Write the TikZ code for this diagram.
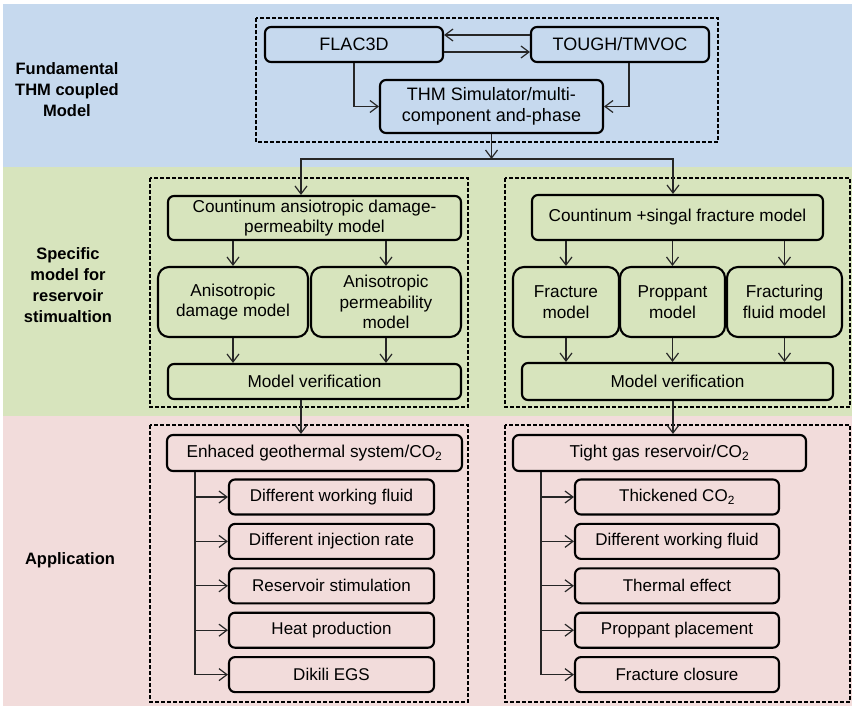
\documentclass[tikz,border=0pt]{standalone}
\usepackage{fontspec}
\setmainfont{Liberation Sans}
\usetikzlibrary{arrows.meta}
\definecolor{bandblue}{RGB}{198,217,238}
\definecolor{bandgreen}{RGB}{215,228,189}
\definecolor{bandpink}{RGB}{242,220,219}
\tikzset{
	box/.style={draw, line width=2.1pt, rounded corners=6pt, align=center, inner sep=0pt, font=\fontsize{17.2}{20.5}\selectfont},
	topbox/.style={box, font=\fontsize{18}{21.5}\selectfont},
	midbox/.style={box, rounded corners=11pt},
	appbox/.style={box, font=\fontsize{17}{20}\selectfont},
	grp/.style={draw, line width=1.1pt, dash pattern=on 4pt off 2pt},
	arr/.style={line width=1.2pt, draw=black!85, -{Straight Barb[length=8pt,width=12pt]}},
	side/.style={align=center, font=\bfseries\fontsize{16.5}{21}\selectfont},
}

\begin{document}
\begin{tikzpicture}[x=1pt, y=-1pt]
			%%%%% START %%%%%
			\useasboundingbox (0,0) rectangle (852,706);
			
			\fill[bandblue] (3,4) rectangle (852,167);
			\fill[bandgreen] (3,167) rectangle (852,416);
			\fill[bandpink] (3,416) rectangle (852,706);
			
			\node[side] (lblfund) at (67,90) {Fundamental\\THM coupled\\Model};
			\node[side] (lblspec) at (68,285) {Specific\\model for\\reservoir\\stimualtion};
			\node[side] (lblapp) at (70,560) {Application};
			
			\draw[grp] (256,18) rectangle (718,142);
			\node[topbox, minimum width=178pt, minimum height=35pt] (flac) at (354,44.5) {FLAC3D};
			\node[topbox, minimum width=178pt, minimum height=35pt] (tough) at (620,44.5) {TOUGH/TMVOC};
			\node[topbox, minimum width=223pt, minimum height=53pt] (thm) at (491.5,106.5) {THM Simulator/multi-\\component and-phase};
			
			\draw[arr] ([yshift=9.5pt]tough.west) -- ([yshift=9.5pt]flac.east);
			\draw[arr] ([yshift=-7.5pt]flac.east) -- ([yshift=-7.5pt]tough.west);
			\draw[arr] (flac.south) |- (thm.west);
			\draw[arr] ([xshift=9pt]tough.south) |- (thm.east);
			
			\coordinate (split) at (491.5,159);
			\coordinate (colL) at (301,0);
			\coordinate (colR) at (673,0);
			
			\draw[grp] (150,178) rectangle (468,407);
			\node[box, minimum width=293pt, minimum height=44pt] (cadp) at (314.5,218) {Countinum ansiotropic damage-\\permeabilty model};
			\node[midbox, minimum width=150pt, minimum height=70pt] (adm) at (233,302) {Anisotropic\\damage model};
			\node[midbox, minimum width=150pt, minimum height=70pt] (apm) at (386,302) {Anisotropic\\permeability\\model};
			\node[box, minimum width=293pt, minimum height=35pt] (mvL) at (314.5,381.5) {Model verification};
			
			\draw[grp] (505,178) rectangle (850,407);
			\node[box, minimum width=291pt, minimum height=45pt] (csf) at (677.5,217.5) {Countinum +singal fracture model};
			\node[midbox, minimum width=106pt, minimum height=70pt] (frac) at (566,302) {Fracture\\model};
			\node[midbox, minimum width=105pt, minimum height=70pt] (prop) at (672.5,302) {Proppant\\model};
			\node[midbox, minimum width=115pt, minimum height=70pt] (fluid) at (784.5,302) {Fracturing\\fluid model};
			\node[box, minimum width=311pt, minimum height=37pt] (mvR) at (677.5,381.5) {Model verification};
			
			\draw[arr] (thm.south) -- (split);
			\draw[arr] (split) -| (cadp.north -| colL);
			\draw[arr] (split) -| (csf.north -| colR);
			
			\draw[arr] (cadp.south -| adm.north) -- (adm.north);
			\draw[arr] (cadp.south -| apm.north) -- (apm.north);
			\draw[arr] (adm.south) -- (mvL.north -| adm.south);
			\draw[arr] (apm.south) -- (mvL.north -| apm.south);
			
			\draw[arr] (csf.south -| frac.north) -- (frac.north);
			\draw[arr] (csf.south -| prop.north) -- (prop.north);
			\draw[arr] (csf.south -| fluid.north) -- (fluid.north);
			\draw[arr] (frac.south) -- (mvR.north -| frac.south);
			\draw[arr] (prop.south) -- (mvR.north -| prop.south);
			\draw[arr] (fluid.south) -- (mvR.north -| fluid.south);
			
			\draw[grp] (150,425) rectangle (468,702);
			\node[box, minimum width=295pt, minimum height=36pt] (egs) at (314.5,453) {Enhaced geothermal system/CO\textsubscript{2}};
			\node[appbox, minimum width=205pt, minimum height=35pt] (wfL) at (331.5,497) {Different working fluid};
			\node[appbox, minimum width=205pt, minimum height=35pt] (inj) at (331.5,541.4) {Different injection rate};
			\node[appbox, minimum width=205pt, minimum height=35pt] (stim) at (331.5,585.8) {Reservoir stimulation};
			\node[appbox, minimum width=205pt, minimum height=35pt] (heat) at (331.5,630.2) {Heat production};
			\node[appbox, minimum width=205pt, minimum height=35pt] (dik) at (331.5,674.6) {Dikili EGS};
			
			\draw[grp] (505,425) rectangle (850,702);
			\node[box, minimum width=293pt, minimum height=36pt] (tgr) at (659.5,453) {Tight gas reservoir/CO\textsubscript{2}};
			\node[appbox, minimum width=204pt, minimum height=35pt] (thick) at (677,497) {Thickened CO\textsubscript{2}};
			\node[appbox, minimum width=204pt, minimum height=35pt] (wfR) at (677,541.4) {Different working fluid};
			\node[appbox, minimum width=204pt, minimum height=35pt] (therm) at (677,585.8) {Thermal effect};
			\node[appbox, minimum width=204pt, minimum height=35pt] (place) at (677,630.2) {Proppant placement};
			\node[appbox, minimum width=204pt, minimum height=35pt] (clos) at (677,674.6) {Fracture closure};
			
			\draw[arr] (mvL.south -| colL) -- (egs.north -| colL);
			\draw[arr] (mvR.south -| colR) -- (tgr.north -| colR);
			
			\coordinate (trunkL) at (195,0);
			\coordinate (trunkR) at (541,0);
			\draw[arr] (egs.south -| trunkL) |- (wfL.west);
			\draw[arr] (egs.south -| trunkL) |- (inj.west);
			\draw[arr] (egs.south -| trunkL) |- (stim.west);
			\draw[arr] (egs.south -| trunkL) |- (heat.west);
			\draw[arr] (egs.south -| trunkL) |- (dik.west);
			\draw[arr] (tgr.south -| trunkR) |- (thick.west);
			\draw[arr] (tgr.south -| trunkR) |- (wfR.west);
			\draw[arr] (tgr.south -| trunkR) |- (therm.west);
			\draw[arr] (tgr.south -| trunkR) |- (place.west);
			\draw[arr] (tgr.south -| trunkR) |- (clos.west);
			
			%%%%% END %%%%%
		\end{tikzpicture}
\end{document}
